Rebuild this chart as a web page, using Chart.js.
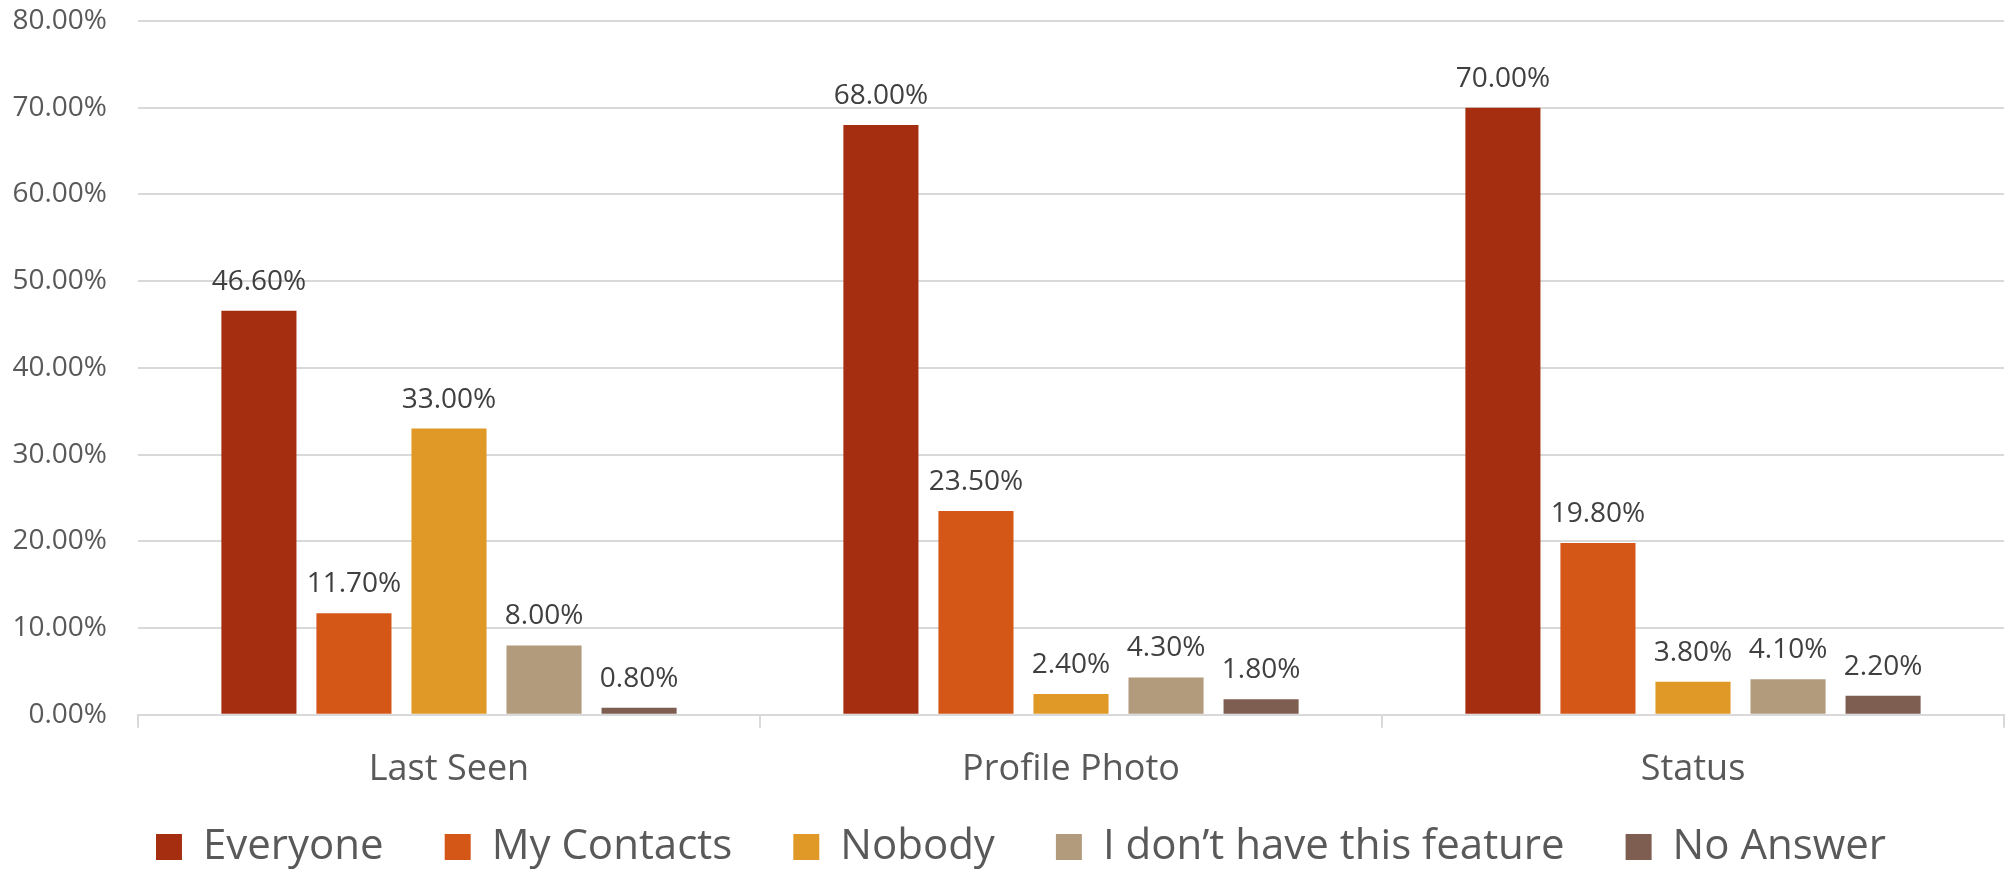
<!DOCTYPE html>
<html>
<head>
<meta charset="utf-8">
<script src="https://cdn.jsdelivr.net/npm/chart.js@4"></script>
<style>
    html, body { margin: 0; padding: 0; background: #ffffff; }
    #wrap { width: 2006px; height: 872px; }
</style>
</head>
<body>
<div id="wrap"><canvas id="chart" width="2006" height="872"></canvas></div>
<script>
// chart data
const categories = ['Last Seen', 'Profile Photo', 'Status'];
const seriesNames = ['Everyone', 'My Contacts', 'Nobody', 'I don\u2019t have this feature', 'No Answer'];
const everyone = [46.6, 68.0, 70.0];
const myContacts = [11.7, 23.5, 19.8];
const nobody = [33.0, 2.4, 3.8];
const noFeature = [8.0, 4.3, 4.1];
const noAnswer = [0.8, 1.8, 2.2];
const yTicks = [0, 10, 20, 30, 40, 50, 60, 70, 80];

const seriesColors = ['#A42E0F', '#D45717', '#E09926', '#B29B7D', '#7E5E51'];
const textColor = '#595959';
const gridColor = '#d9d9d9';
const fontName = "'Open Sans', sans-serif";

const ctxt = document.getElementById('chart').getContext('2d');

// draws the value above each bar
const barValuePlugin = {
    id: 'barValues',
    afterDatasetsDraw(chart) {
        let ctx = chart.ctx;
        ctx.save();
        ctx.font = `28px ${fontName}`;
        ctx.fillStyle = '#404040';
        ctx.textAlign = 'center';
        ctx.textBaseline = 'middle';
        chart.data.datasets.forEach((ds, i) => {
            chart.getDatasetMeta(i).data.forEach((bar, j) => {
                ctx.fillText(ds.data[j].toFixed(2) + '%', bar.x, bar.y - 29);
            });
        });
        ctx.restore();
    }
};

// legend padding is big for the gaps between items, so keep its height small
// and put it where it belongs after the layout
const legendPlacePlugin = {
    id: 'legendPlace',
    afterInit(chart) {
        const fit = chart.legend.fit;
        chart.legend.fit = function () {
            fit.bind(chart.legend)();
            this.height = 61;
        };
    },
    afterLayout(chart) {
        let lg = chart.legend;
        lg.top = 765;
        lg.bottom = 872;
        lg.left = 38;
    }
};

function makeDataset(label, values, color) {
    return {
        label: label,
        data: values,
        backgroundColor: color,
        borderWidth: 0,
        categoryPercentage: 0.764,
        barPercentage: 0.79
    };
}

const seriesValues = [everyone, myContacts, nobody, noFeature, noAnswer];
let datasets = [];
seriesNames.forEach((name, i) => {
    datasets.push(makeDataset(name, seriesValues[i], seriesColors[i]));
});

var chart = new Chart(ctxt, {
    type: 'bar',
    data: {
        labels: categories,
        datasets: datasets
    },
    options: {
        responsive: false,
        animation: false,
        layout: {
            padding: { top: 21, left: 12, right: 2, bottom: 0 }
        },
        plugins: {
            legend: {
                position: 'bottom',
                labels: {
                    boxWidth: 26,
                    boxHeight: 26,
                    padding: 61,
                    color: textColor,
                    font: { family: fontName, size: 42 }
                }
            },
            tooltip: { enabled: false }
        },
        scales: {
            x: {
                grid: {
                    display: true,
                    offset: true,
                    drawOnChartArea: false,
                    drawTicks: true,
                    tickLength: 13,
                    color: gridColor,
                    lineWidth: 2
                },
                border: { color: gridColor, width: 2 },
                ticks: {
                    color: textColor,
                    padding: 20,
                    font: { family: fontName, size: 36 }
                }
            },
            y: {
                min: yTicks[0],
                max: yTicks[yTicks.length - 1],
                afterBuildTicks: (axis) => {
                    axis.ticks = yTicks.map((v) => ({ value: v }));
                },
                afterFit: (axis) => {
                    axis.width = 126;
                    axis.paddingTop = 0;
                    axis.paddingBottom = 0;
                },
                grid: {
                    color: gridColor,
                    lineWidth: 2,
                    drawTicks: false
                },
                border: { display: false },
                ticks: {
                    color: textColor,
                    padding: 31,
                    font: { family: fontName, size: 28 },
                    callback: (value) => value.toFixed(2) + '%'
                }
            }
        }
    },
    plugins: [barValuePlugin, legendPlacePlugin]
});
</script>
</body>
</html>
